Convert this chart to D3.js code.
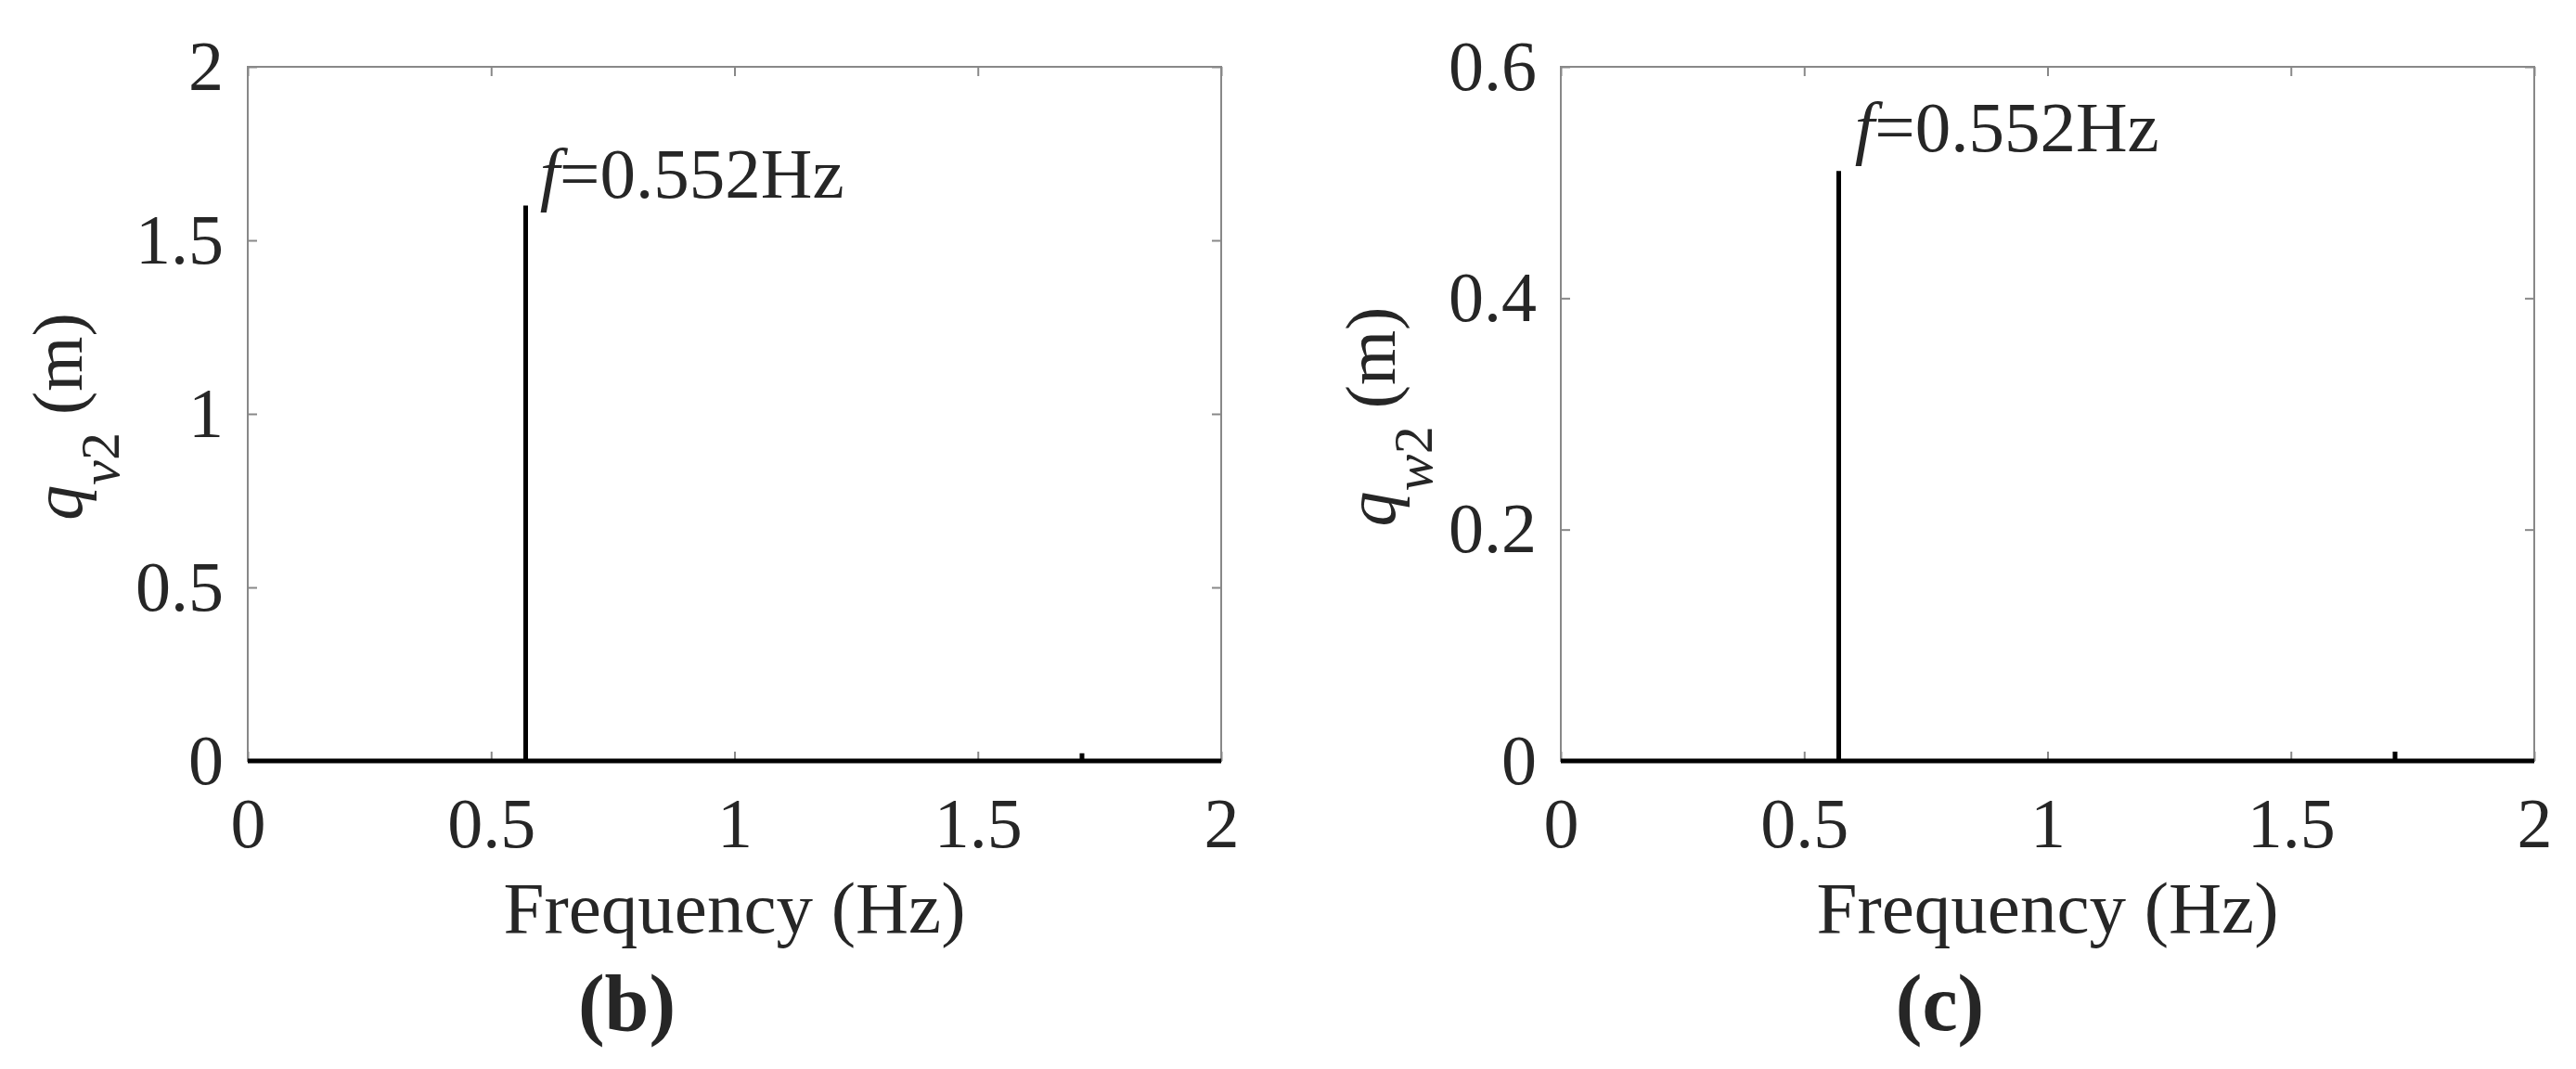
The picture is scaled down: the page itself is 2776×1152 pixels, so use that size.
<!DOCTYPE html>
<html>
<head>
<meta charset="utf-8">
<script src="https://cdn.jsdelivr.net/npm/d3@7"></script>
<style>
  html, body { margin: 0; padding: 0; background: #fff; }
  svg { display: block; }
  text { font-family: "Liberation Serif", "Times New Roman", serif; fill: #262626; }
</style>
</head>
<body>
<svg id="chart" width="2776" height="1152"></svg>
<script>
// ---- data ----
const freqTicks = [0, 0.5, 1, 1.5, 2];
const ampTicksB = [0, 0.5, 1, 1.5, 2];
const ampTicksC = [0, 0.2, 0.4, 0.6];

const freqB = [0, 0.571, 0.571, 0.571, 1.714, 1.714, 1.714, 2];
const ampB  = [0, 0,     1.60,  0,     0,     0.022, 0,     0];

const freqC = [0, 0.571, 0.571, 0.571, 1.714, 1.714, 1.714, 2];
const ampC  = [0, 0,     0.51,  0,     0,     0.008, 0,     0];

const peakText = "=0.552Hz";
const annB = [0.600, 1.623];
const annC = [0.604, 0.527];

const xLabel = "Frequency (Hz)";
const panelLabels = ["(b)", "(c)"];
const ySubs = ["v", "w"];

// ---- layout ----
const svg = d3.select("#chart");
const plotW = 1049, plotH = 748, plotTop = 72;
const panels = [
  { left: 267,  ymax: 2,   yticks: ampTicksB, f: freqB, a: ampB, ann: annB, sub: ySubs[0], tag: panelLabels[0] },
  { left: 1682, ymax: 0.6, yticks: ampTicksC, f: freqC, a: ampC, ann: annC, sub: ySubs[1], tag: panelLabels[1] }
];

panels.forEach(p => {
  const g = svg.append("g").attr("transform", `translate(${p.left},${plotTop})`);
  const x = d3.scaleLinear().domain([0, 2]).range([0, plotW]);
  const y = d3.scaleLinear().domain([0, p.ymax]).range([plotH, 0]);
  const pts = p.f.map((f, i) => [f, p.a[i]]);
  const line = d3.line().x(d => x(d[0])).y(d => y(d[1]));

  const fmt = d => String(d);
  const styleAxis = sel => {
    sel.select(".domain").remove();
    sel.selectAll(".tick line").attr("stroke", "#888").attr("stroke-width", 2);
    sel.selectAll(".tick text").attr("fill", "#262626").style("font-size", "76px")
      .style("font-family", '"Liberation Serif", "Times New Roman", serif');
  };
  g.append("g").attr("transform", `translate(0,${plotH})`)
    .call(d3.axisBottom(x).tickValues(freqTicks).tickFormat(fmt).tickSize(-10).tickPadding(39))
    .call(styleAxis);
  g.append("g")
    .call(d3.axisTop(x).tickValues(freqTicks).tickFormat("").tickSize(-10))
    .call(styleAxis);
  g.append("g")
    .call(d3.axisLeft(y).tickValues(p.yticks).tickFormat(fmt).tickSize(-10).tickPadding(26))
    .call(styleAxis);
  g.append("g").attr("transform", `translate(${plotW},0)`)
    .call(d3.axisRight(y).tickValues(p.yticks).tickFormat("").tickSize(-10))
    .call(styleAxis);

  // box
  g.append("rect").attr("x", 0).attr("y", 0).attr("width", plotW).attr("height", plotH)
    .attr("fill", "none").attr("stroke", "#888").attr("stroke-width", 2);

  // data line
  g.append("path")
    .datum(pts)
    .attr("d", line)
    .attr("fill", "none")
    .attr("stroke", "#000")
    .attr("stroke-width", 5)
    .attr("stroke-linejoin", "bevel");

  // annotation
  const t = g.append("text")
    .attr("x", x(p.ann[0])).attr("y", y(p.ann[1]))
    .style("font-size", "77px").attr("fill", "#262626");
  t.append("tspan").style("font-style", "italic").text("f");
  t.append("tspan").text(peakText);

  // x label
  g.append("text")
    .attr("x", plotW / 2).attr("y", 1005 - plotTop)
    .attr("text-anchor", "middle")
    .style("font-size", "79px")
    .text(xLabel);

  // y label
  const yl = g.append("text")
    .attr("transform", `translate(${-179},${plotH / 2 + 3}) rotate(-90)`)
    .attr("text-anchor", "middle")
    .style("font-size", "76px");
  yl.append("tspan").style("font-style", "italic").text("q");
  yl.append("tspan").attr("dy", 40).style("font-size", "60px").style("font-style", "italic").text(p.sub);
  yl.append("tspan").style("font-size", "60px").text("2");
  yl.append("tspan").attr("dy", -40).text(" (m)");

  // panel tag
  g.append("text")
    .attr("x", plotW / 2 - 116).attr("y", 1110 - plotTop)
    .attr("text-anchor", "middle")
    .style("font-size", "86px").style("font-weight", "bold").attr("fill", "#000")
    .text(p.tag);
});
</script>
</body>
</html>
